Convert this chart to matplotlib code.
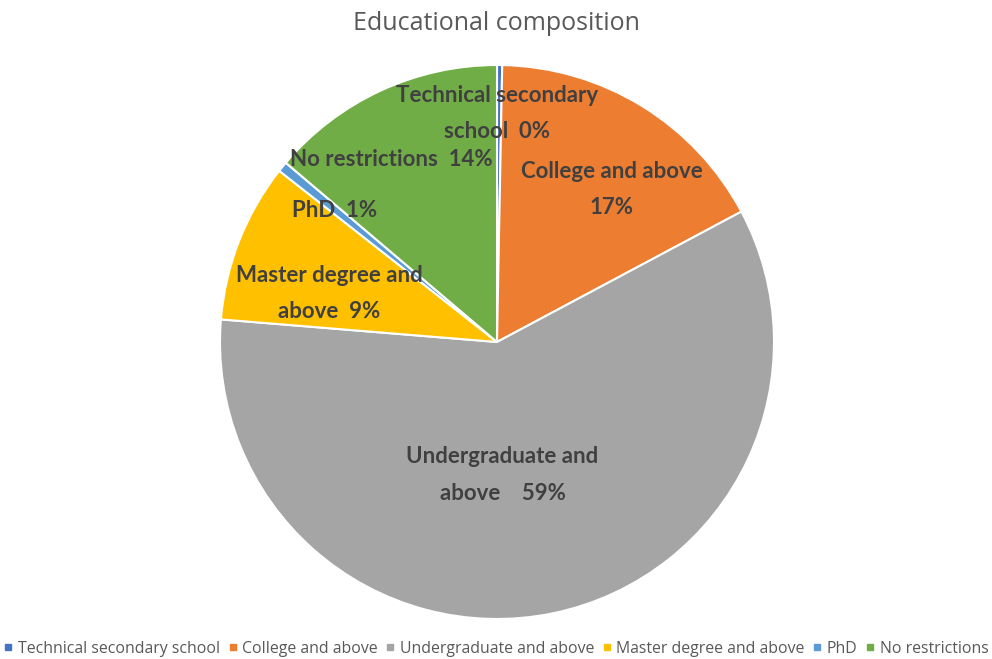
import numpy as np
import matplotlib
matplotlib.use("Agg")
import matplotlib.pyplot as plt
from matplotlib.lines import Line2D

categories = ["Technical secondary school", "College and above", "Undergraduate and above",
              "Master degree and above", "PhD", "No restrictions"]
label_text = ["Technical secondary\nschool", "College and above\n", "Undergraduate and\nabove  ",
              "Master degree and\nabove", "PhD", "No restrictions"]
shares = [0.3, 16.9, 59.1, 9.3, 0.6, 13.8]
colors = ["#4472C4", "#ED7D31", "#A5A5A5", "#FFC000", "#5B9BD5", "#70AD47"]

# label centre offsets (in pie-radius units) - picked to mimic Excel's "best fit"
label_pos = [(0.0, 0.825), (0.415, 0.55), (0.02, -0.48),
             (-0.605, 0.175), (-0.585, 0.473), (-0.38, 0.66)]

W, H = 992, 659
fig = plt.figure(figsize=(W / 100, H / 100), dpi=100)
cx, cy, R = 497, 342, 277
ax = fig.add_axes([(cx - R) / W, (H - cy - R) / H, 2 * R / W, 2 * R / H])

wedges, _ = ax.pie(shares, colors=colors, startangle=90, counterclock=False,
                   wedgeprops=dict(edgecolor="white", linewidth=1.5))
ax.set_xlim(-1, 1)
ax.set_ylim(-1, 1)
ax.set_aspect("equal")
ax.axis("off")

total = sum(shares)
for txt, v, (lx, ly) in zip(label_text, shares, label_pos):
    pct = f"{round(v / total * 100):.0f}%"
    if txt.endswith("\n"):
        s = txt + pct
    else:
        s = txt + "  " + pct
    ax.text(lx, ly, s, ha="center", va="center", fontsize=16, fontweight="bold",
            family="Lato", color="#404040", linespacing=1.9)

fig.text(0.5, 1 - 23 / H, "Educational composition", ha="center", va="center",
         fontsize=18, color="#595959", family="Open Sans")

handles = [Line2D([0], [0], marker="s", linestyle="none", markersize=5,
                  markerfacecolor=c, markeredgecolor=c) for c in colors]
fig.legend(handles, categories, loc="center", bbox_to_anchor=(0.5, 1 - 649 / H),
           ncol=6, frameon=False, handlelength=0.6, handletextpad=0.3,
           columnspacing=0.5, prop=dict(family="Open Sans", size=11.4),
           labelcolor="#595959")

fig.savefig("out.png", dpi=100)
